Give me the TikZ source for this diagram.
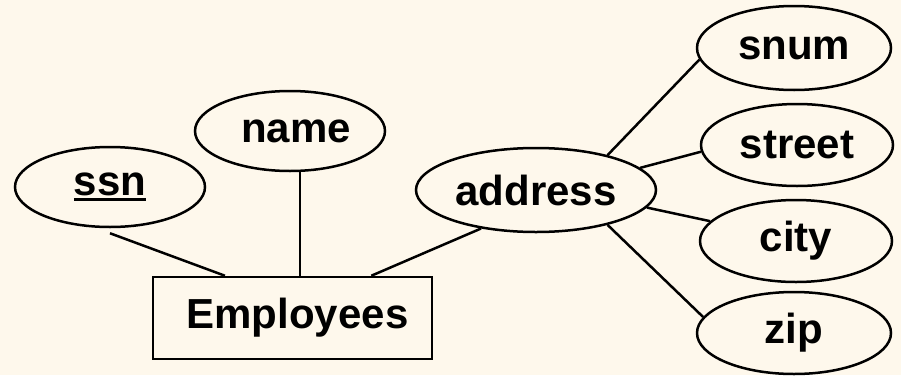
\documentclass[tikz,border=0pt]{standalone}
\usepackage{fontspec}
\setmainfont{Liberation Sans}
\usetikzlibrary{shapes.geometric,calc}
\definecolor{bg}{RGB}{254,248,236}
\newcommand\thickul[1]{\setbox0\hbox{#1}\rlap{\vrule height -2pt depth 5.5pt width \wd0}#1}
\begin{document}
\begin{tikzpicture}[x=1pt,y=-1pt,
  attr/.style={draw,ellipse,line width=2.5pt,inner sep=0pt,font=\fontsize{42}{50}\selectfont\bfseries},
  ent/.style={draw,rectangle,line width=2.5pt,inner sep=0pt,font=\fontsize{42}{50}\selectfont\bfseries},
  link/.style={line width=2.5pt}]
\fill[bg] (0,0) rectangle (901,375);
\useasboundingbox (0,0) rectangle (901,375);
\node[ent,minimum width=279pt,minimum height=82pt] (emp) at (292.5,318) {\hspace*{10pt}Employees};
\node[attr,minimum width=190pt,minimum height=80pt] (ssn) at (110,187) {\thickul{ssn}};
\node[attr,minimum width=190pt,minimum height=80pt] (name) at (290,131) {\hspace*{12pt}name};
\node[attr,minimum width=240pt,minimum height=84pt] (addr) at (536,190) {address};
\node[attr,minimum width=194pt,minimum height=84pt] (snum) at (794,48) {snum};
\node[attr,minimum width=192pt,minimum height=82pt] (street) at (797,145) {street};
\node[attr,minimum width=192pt,minimum height=82pt] (city) at (796,241) {city};
\node[attr,minimum width=194pt,minimum height=82pt] (zip) at (794,333) {zip};
\draw[link] ([yshift=-5pt]ssn.south) -- ($(emp.north west)!0.26!(emp.north east)$);
\draw[link] ([xshift=10pt]name.south) -- ([xshift=10pt]name.south |- emp.north);
\draw[link] (addr.215) -- ($(emp.north west)!0.78!(emp.north east)$);
\draw[link] (addr.26) -- (snum.187);
\draw[link] (addr.12) -- (street.184);
\draw[link] (addr.351) -- (city.167);
\draw[link] (addr.334) -- (zip.170);
\end{tikzpicture}
\end{document}
